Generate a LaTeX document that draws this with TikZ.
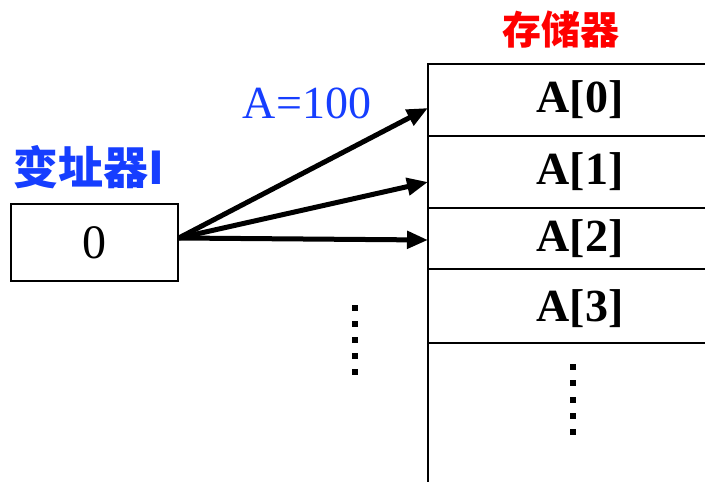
\documentclass[tikz,border=0pt]{standalone}
\usepackage{fontspec}
\setmainfont{Liberation Serif}
\newfontfamily\cjk{Noto Sans CJK SC}
\usetikzlibrary{arrows.meta}

\definecolor{regblue}{RGB}{22,62,255}
\definecolor{memred}{RGB}{255,0,0}

\begin{document}
\begin{tikzpicture}[
    x=1pt, y=-1pt,
    regbox/.style={draw=black, line width=1.5pt, minimum width=167pt, minimum height=77pt, inner sep=0pt, font=\fontsize{48}{52}\selectfont},
    cell/.style={anchor=west, minimum width=277pt, inner sep=0pt, font=\fontsize{46}{50}\selectfont\bfseries},
    title/.style={font=\cjk\bfseries\fontsize{39}{42}\selectfont, inner sep=0pt},
    addr/.style={-{Triangle[length=21pt, width=17pt]}, line width=5pt},
    wall/.style={line width=1.6pt},
    dot/.style={fill=black}
]
    \useasboundingbox (0,0) rectangle (705,482);

    % Index register
    \node[title, text=regblue, font=\cjk\bfseries\fontsize{45}{48}\selectfont] (regname) at (89,167) {变址器I};
    \node[regbox] (reg) at (94.5,242.5) {0};

    % Memory column
    \draw[wall] (705,64) -- (428,64) -- (428,490);
    \foreach \y in {136,208,269,343}
        \draw[wall] (428,\y) -- (705,\y);
    \node[title, text=memred] (memname) at (561,30) {存储器};

    % Cells
    \node[cell, minimum height=72pt] (cell0) at (428,100) {\hspace*{27pt}A[0]};
    \node[cell, minimum height=72pt] (cell1) at (428,172) {\hspace*{27pt}A[1]};
    \node[cell, minimum height=61pt] (cell2) at (428,238.5) {\hspace*{27pt}A[2]};
    \node[cell, minimum height=74pt] (cell3) at (428,309) {\hspace*{27pt}A[3]};

    % Arrows
    \coordinate (from) at ([yshift=4.5pt]reg.east);
    \draw[addr] (from) -- ([yshift=-8pt]cell0.west);
    \draw[addr] (from) -- ([yshift=-10pt]cell1.west);
    \draw[addr] (from) -- ([yshift=-1.5pt]cell2.west);

    % Base address
    \node[text=regblue, font=\fontsize{46}{50}\selectfont, inner sep=0pt] (base) at (307,103) {A=100};

    % Dots
    \foreach \k in {0,...,4} {
        \fill[dot] (352,305+16*\k) rectangle ++(6,6);
        \fill[dot] (570,364+16.25*\k) rectangle ++(6,6);
    }
\end{tikzpicture}
\end{document}
